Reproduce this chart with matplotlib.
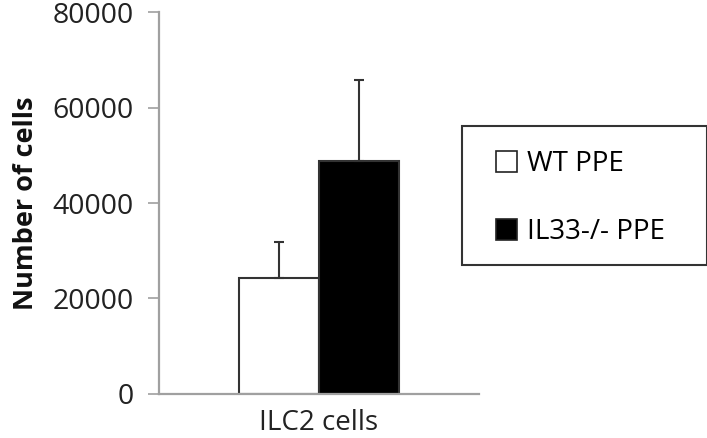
import matplotlib
matplotlib.use("Agg")
import matplotlib.pyplot as plt
from matplotlib.patches import Patch, Rectangle

groups = ["WT PPE", "IL33-/- PPE"]
means = [24300, 48800]
errors = [7500, 17000]
colors = ["white", "black"]
category = "ILC2 cells"
yticks = [0, 20000, 40000, 60000, 80000]

plt.rcParams["font.family"] = ["Open Sans", "DejaVu Sans"]

fig = plt.figure(figsize=(7.07, 4.38), dpi=100)
ax = fig.add_axes([0.2249, 0.1005, 0.4526, 0.872])

xs = [-0.5, 0.5]
for x, m, e, c in zip(xs, means, errors, colors):
    ax.bar(x, m, width=1.0, color=c, edgecolor="#333333", linewidth=1.5, zorder=2)
    ax.errorbar(x, m, yerr=[[0], [e]], fmt="none", ecolor="#333333",
                elinewidth=1.5, capsize=3.8, capthick=1.5, zorder=3)

ax.set_xlim(-2, 2)
ax.set_ylim(0, 80000)
ax.set_yticks(yticks)
ax.set_yticklabels([str(t) for t in yticks], fontsize=20.5, color="#222222")
ax.set_xticks([0])
ax.set_xticklabels([category], fontsize=20, color="#222222")
ax.tick_params(axis="x", length=0, pad=11)
ax.tick_params(axis="y", length=8, width=1.2, color="#a0a0a0", pad=10)
for s in ["top", "right"]:
    ax.spines[s].set_visible(False)
for s in ["left", "bottom"]:
    ax.spines[s].set_color("#a0a0a0")
    ax.spines[s].set_linewidth(1.6)
ax.set_ylabel("Number of cells", fontsize=19.5, fontweight="bold", labelpad=10,
              color="#111111")

# legend box drawn separately so the padding can match the reference
fig.patches.append(Rectangle((462 / 707, 1 - 265 / 438), 245 / 707, 139 / 438,
                             transform=fig.transFigure, facecolor="white",
                             edgecolor="#333333", linewidth=1.5, zorder=1))
handles = [Patch(facecolor=c, edgecolor="#222222", linewidth=1.2) for c in colors]
leg = fig.legend(handles, groups, loc="upper left",
                 bbox_to_anchor=(496 / 707, 1 - 150 / 438), fontsize=20,
                 frameon=False, handlelength=0.76, handleheight=0.76,
                 handletextpad=0.36, labelspacing=1.45, borderpad=0,
                 borderaxespad=0)
leg.set_zorder(2)

fig.savefig("out.png", dpi=100)
